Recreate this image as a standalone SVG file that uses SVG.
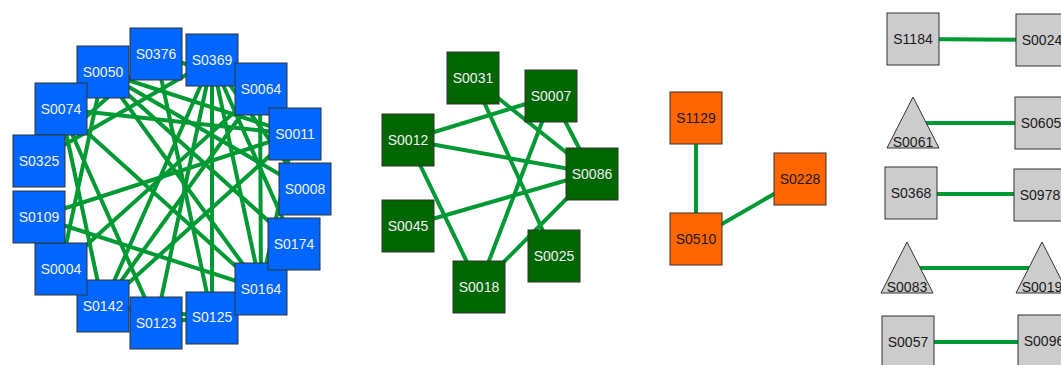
<svg xmlns="http://www.w3.org/2000/svg" width="1061" height="365" viewBox="0 0 1061 365">
<style>
.e{stroke:#009933;stroke-width:4;fill:none}
.n rect,.n polygon{stroke:#333;stroke-width:1}
.b rect{fill:#0066ff}
.g rect{fill:#006600}
.o rect{fill:#ff6600}
.y rect,.y polygon{fill:#cccccc}
text{font-family:"Liberation Sans",Arial,sans-serif;font-size:14px;text-anchor:middle}
.b text,.g text{fill:#f2f2f2}
.o text,.y text{fill:#1a1a1a}
</style>
<rect width="1061" height="365" fill="#ffffff"/>
<g id="edges">
<!-- blue cluster -->
<line class="e" x1="61" y1="109" x2="294" y2="134"/>
<line class="e" x1="103" y1="72" x2="294" y2="134"/>
<line class="e" x1="38" y1="217" x2="294" y2="134"/>
<line class="e" x1="103" y1="306" x2="294" y2="134"/>
<line class="e" x1="294" y1="134" x2="261" y2="289"/>
<line class="e" x1="38" y1="217" x2="261" y2="289"/>
<line class="e" x1="61" y1="109" x2="261" y2="289"/>
<line class="e" x1="103" y1="72" x2="261" y2="289"/>
<line class="e" x1="260" y1="89" x2="261" y2="289"/>
<line class="e" x1="212" y1="60" x2="261" y2="289"/>
<line class="e" x1="61" y1="109" x2="156" y2="323"/>
<line class="e" x1="212" y1="60" x2="156" y2="323"/>
<line class="e" x1="156" y1="323" x2="212" y2="317"/>
<line class="e" x1="61" y1="109" x2="103" y2="306"/>
<line class="e" x1="212" y1="60" x2="103" y2="306"/>
<line class="e" x1="103" y1="306" x2="212" y2="317"/>
<line class="e" x1="103" y1="72" x2="61" y2="268"/>
<line class="e" x1="260" y1="89" x2="61" y2="268"/>
<line class="e" x1="212" y1="60" x2="212" y2="317"/>
<line class="e" x1="212" y1="60" x2="294" y2="244"/>
<line class="e" x1="212" y1="60" x2="38" y2="160"/>
<line class="e" x1="212" y1="60" x2="305" y2="189"/>
<line class="e" x1="156" y1="54" x2="260" y2="89"/>
<line class="e" x1="156" y1="54" x2="38" y2="160"/>
<line class="e" x1="156" y1="54" x2="212" y2="317"/>
<line class="e" x1="103" y1="72" x2="294" y2="244"/>
<line class="e" x1="103" y1="72" x2="305" y2="189"/>
<line class="e" x1="260" y1="89" x2="103" y2="306"/>
<!-- green cluster -->
<line class="e" x1="408" y1="140" x2="552" y2="96"/>
<line class="e" x1="408" y1="140" x2="592" y2="173"/>
<line class="e" x1="408" y1="140" x2="479" y2="287"/>
<line class="e" x1="408" y1="226" x2="592" y2="173"/>
<line class="e" x1="473" y1="78" x2="592" y2="173"/>
<line class="e" x1="473" y1="78" x2="554" y2="255"/>
<line class="e" x1="552" y1="96" x2="479" y2="287"/>
<line class="e" x1="552" y1="96" x2="592" y2="173"/>
<line class="e" x1="592" y1="173" x2="479" y2="287"/>
<!-- orange -->
<line class="e" x1="696" y1="118" x2="696" y2="239"/>
<line class="e" x1="696" y1="239" x2="800" y2="179"/>
<!-- gray pairs -->
<line class="e" x1="913" y1="39" x2="1042" y2="40"/>
<line class="e" x1="913" y1="123" x2="1041" y2="123"/>
<line class="e" x1="911" y1="194" x2="1040" y2="194"/>
<line class="e" x1="907" y1="268" x2="1042" y2="268"/>
<line class="e" x1="908" y1="342" x2="1044" y2="342"/>
</g>
<!-- blue nodes -->
<g id="S0050" class="n b"><rect x="77" y="46" width="52" height="52"/><text x="103" y="77">S0050</text></g>
<g id="S0074" class="n b"><rect x="35" y="83" width="52" height="52"/><text x="61" y="114">S0074</text></g>
<g id="S0376" class="n b"><rect x="130" y="28" width="52" height="52"/><text x="156" y="59">S0376</text></g>
<g id="S0369" class="n b"><rect x="186" y="34" width="52" height="52"/><text x="212" y="65">S0369</text></g>
<g id="S0064" class="n b"><rect x="235" y="63" width="52" height="52"/><text x="261" y="94">S0064</text></g>
<g id="S0011" class="n b"><rect x="269" y="108" width="52" height="52"/><text x="295" y="139">S0011</text></g>
<g id="S0008" class="n b"><rect x="279" y="163" width="52" height="52"/><text x="305" y="194">S0008</text></g>
<g id="S0125" class="n b"><rect x="186" y="292" width="52" height="52"/><text x="212" y="322">S0125</text></g>
<g id="S0164" class="n b"><rect x="235" y="263" width="52" height="52"/><text x="261" y="294">S0164</text></g>
<g id="S0174" class="n b"><rect x="268" y="218" width="52" height="52"/><text x="294" y="249">S0174</text></g>
<g id="S0123" class="n b"><rect x="130" y="297" width="52" height="52"/><text x="156" y="328">S0123</text></g>
<g id="S0142" class="n b"><rect x="77" y="280" width="52" height="52"/><text x="103" y="311">S0142</text></g>
<g id="S0004" class="n b"><rect x="35" y="243" width="52" height="52"/><text x="61" y="274">S0004</text></g>
<g id="S0325" class="n b"><rect x="13" y="135" width="52" height="52"/><text x="39" y="166">S0325</text></g>
<g id="S0109" class="n b"><rect x="13" y="191" width="52" height="52"/><text x="39" y="222">S0109</text></g>
<!-- green nodes -->
<g id="S0031" class="n g"><rect x="447" y="52" width="52" height="52"/><text x="473" y="83">S0031</text></g>
<g id="S0007" class="n g"><rect x="525" y="70" width="52" height="52"/><text x="551" y="101">S0007</text></g>
<g id="S0012" class="n g"><rect x="382" y="114" width="52" height="52"/><text x="408" y="145">S0012</text></g>
<g id="S0086" class="n g"><rect x="566" y="148" width="52" height="52"/><text x="592" y="179">S0086</text></g>
<g id="S0045" class="n g"><rect x="382" y="200" width="52" height="52"/><text x="408" y="231">S0045</text></g>
<g id="S0025" class="n g"><rect x="528" y="230" width="52" height="52"/><text x="554" y="261">S0025</text></g>
<g id="S0018" class="n g"><rect x="453" y="261" width="52" height="52"/><text x="479" y="292">S0018</text></g>
<!-- orange nodes -->
<g id="S1129" class="n o"><rect x="670" y="92" width="52" height="52"/><text x="696" y="123">S1129</text></g>
<g id="S0228" class="n o"><rect x="774" y="153" width="52" height="52"/><text x="800" y="184">S0228</text></g>
<g id="S0510" class="n o"><rect x="670" y="213" width="52" height="52"/><text x="696" y="244">S0510</text></g>
<!-- gray nodes -->
<g id="S1184" class="n y"><rect x="887" y="13" width="52" height="52"/><text x="913" y="44">S1184</text></g>
<g id="S0024" class="n y"><rect x="1016" y="14" width="52" height="52"/><text x="1042" y="45">S0024</text></g>
<g id="S0061" class="n y"><polygon points="913,97 939,148 887,148"/><text x="913" y="147">S0061</text></g>
<g id="S0605" class="n y"><rect x="1015" y="97" width="52" height="52"/><text x="1041" y="128">S0605</text></g>
<g id="S0368" class="n y"><rect x="885" y="167" width="52" height="52"/><text x="911" y="198">S0368</text></g>
<g id="S0978" class="n y"><rect x="1014" y="169" width="52" height="52"/><text x="1040" y="200">S0978</text></g>
<g id="S0083" class="n y"><polygon points="907,242 933,293 881,293"/><text x="907" y="292">S0083</text></g>
<g id="S0019" class="n y"><polygon points="1042,242 1068,293 1016,293"/><text x="1042" y="292">S0019</text></g>
<g id="S0057" class="n y"><rect x="882" y="316" width="52" height="52"/><text x="908" y="347">S0057</text></g>
<g id="S0096" class="n y"><rect x="1018" y="315" width="52" height="52"/><text x="1044" y="346">S0096</text></g>
</svg>
